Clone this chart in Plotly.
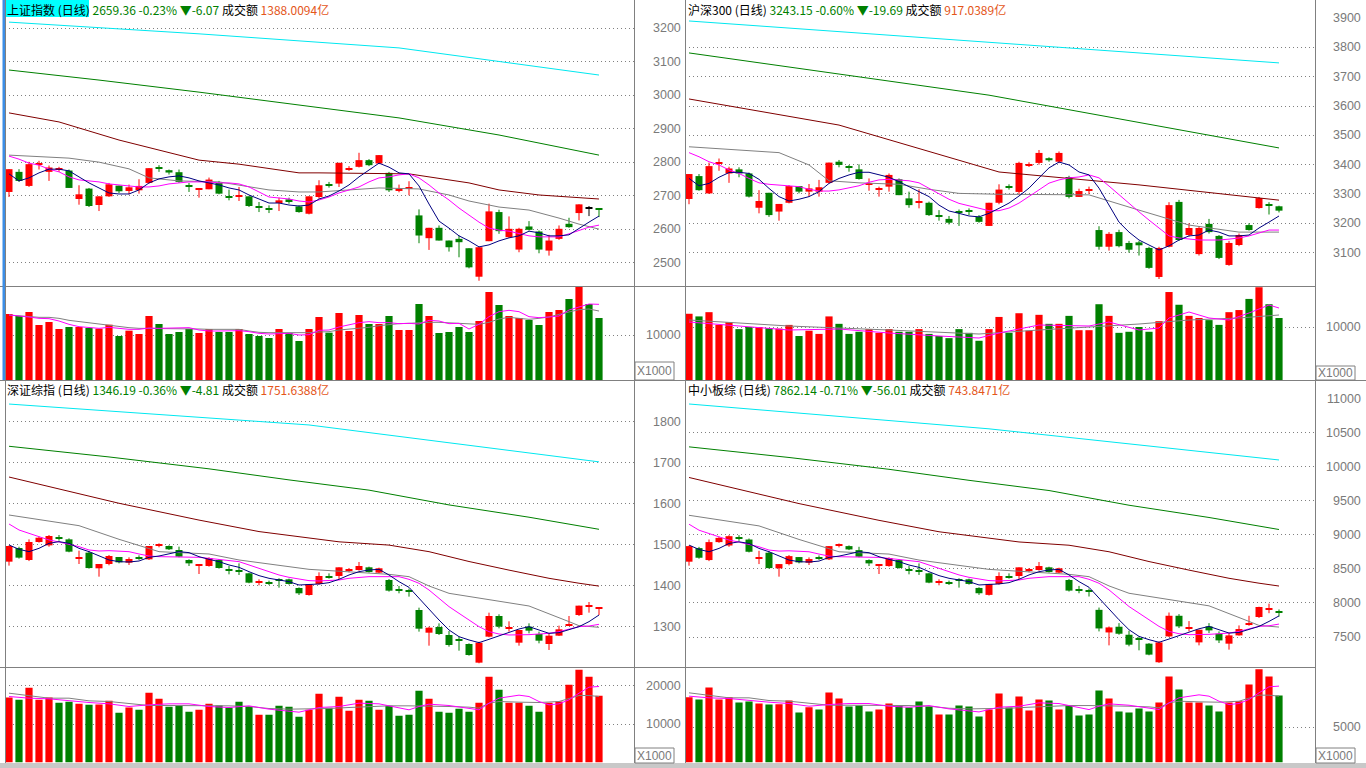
import plotly.graph_objects as go

W, H = 1366, 768

# ================= 上证指数 (top-left) =================
SH_OPEN = [2712, 2772, 2730, 2793, 2772, 2779, 2776, 2691, 2722, 2673,
           2699, 2731, 2715, 2717, 2739, 2785, 2777, 2771, 2731, 2719,
           2720, 2739, 2698, 2699, 2699, 2668, 2661, 2679, 2690, 2669,
           2647, 2697, 2735, 2737, 2779, 2787, 2807, 2797, 2769, 2715,
           2723, 2642, 2574, 2605, 2567, 2572, 2544, 2459, 2565, 2652,
           2577, 2540, 2609, 2594, 2537, 2572, 2617, 2649, 2665.43, 2662]
SH_CLOSE = [2780, 2745, 2795, 2795, 2785, 2781, 2724, 2705, 2670, 2699,
            2735, 2714, 2726, 2730, 2783, 2784, 2770, 2742, 2730, 2720,
            2749, 2707, 2697, 2700, 2670, 2667, 2660, 2687, 2682, 2652,
            2699, 2732, 2733, 2799, 2781, 2807, 2792, 2822, 2717, 2721,
            2724, 2582, 2605, 2567, 2547, 2562, 2487, 2547, 2654, 2595,
            2602, 2602, 2599, 2540, 2567, 2602, 2607, 2675, 2665.43, 2659.36]
SH_HIGH = [2780, 2780, 2802, 2805, 2791, 2787, 2779, 2732, 2724, 2699,
           2739, 2731, 2734, 2750, 2783, 2792, 2779, 2779, 2739, 2722,
           2755, 2745, 2719, 2727, 2699, 2682, 2672, 2695, 2695, 2672,
           2699, 2747, 2742, 2799, 2789, 2829, 2810, 2822, 2772, 2734,
           2744, 2660, 2605, 2612, 2567, 2582, 2544, 2549, 2677, 2659,
           2639, 2605, 2625, 2597, 2584, 2612, 2635, 2675, 2670, 2662]
SH_LOW = [2697, 2742, 2727, 2779, 2745, 2772, 2724, 2674, 2667, 2655,
          2697, 2709, 2705, 2707, 2737, 2772, 2764, 2739, 2712, 2695,
          2720, 2705, 2687, 2685, 2667, 2652, 2649, 2655, 2677, 2650,
          2645, 2692, 2725, 2727, 2775, 2785, 2789, 2795, 2712, 2711,
          2702, 2559, 2539, 2567, 2534, 2517, 2484, 2447, 2565, 2587,
          2575, 2532, 2597, 2529, 2522, 2569, 2605, 2627, 2640, 2637]
SH_VOL = [14667, 14222, 15111, 12222, 12889, 11333, 11778, 11778, 11556, 11407,
          12296, 9778, 10963, 10222, 14222, 12444, 10222, 10667, 11333, 10444,
          11333, 10667, 10667, 11333, 10222, 9778, 9333, 11333, 10444, 8667,
          11333, 14000, 10519, 14889, 10889, 14444, 12444, 12444, 14222, 11111,
          11111, 16889, 14222, 10444, 10667, 11778, 10667, 13111, 19556, 16667,
          14222, 13778, 13333, 12222, 15111, 15556, 18000, 20667, 16889, 13778]
SH_MA5 = [2766, 2745, 2754, 2769, 2780, 2780, 2775, 2757, 2739, 2724,
          2709, 2706, 2706, 2718, 2739, 2751, 2757, 2760, 2754, 2745,
          2739, 2733, 2724, 2718, 2703, 2691, 2679, 2679, 2673, 2670,
          2673, 2691, 2700, 2715, 2733, 2757, 2778, 2798, 2786, 2769,
          2766, 2730, 2676, 2625, 2604, 2581, 2566, 2548, 2554, 2566,
          2575, 2581, 2595, 2590, 2581, 2581, 2584, 2604, 2622, 2640]
SH_MA10 = [2819, 2810, 2798, 2792, 2780, 2772, 2757, 2748, 2745, 2742,
           2736, 2733, 2730, 2727, 2727, 2730, 2736, 2739, 2742, 2742,
           2742, 2739, 2739, 2736, 2727, 2712, 2697, 2694, 2691, 2685,
           2682, 2688, 2697, 2709, 2718, 2727, 2742, 2754, 2757, 2763,
           2766, 2754, 2733, 2709, 2688, 2664, 2643, 2622, 2604, 2598,
           2595, 2587, 2581, 2578, 2578, 2578, 2587, 2598, 2607, 2613]
SH_MA20_X = [0, 4, 6, 9, 12, 14, 17, 21, 24, 26, 29, 31, 37, 41, 44, 46, 49, 52, 55, 57, 59]
SH_MA20 = [2822, 2816, 2813, 2801, 2781, 2754, 2745, 2742, 2727, 2718, 2712,
           2712, 2724, 2721, 2703, 2685, 2667, 2658, 2634, 2616, 2601]
SH_MA60_X = [0, 5, 11, 19, 23, 29, 31, 40, 46, 49, 53, 59]
SH_MA60 = [2948, 2921, 2867, 2807, 2795, 2769, 2769, 2766, 2739, 2718, 2703, 2691]
SH_MA120_X = [0, 9, 19, 29, 39, 49, 59]
SH_MA120 = [3076, 3046, 3010, 2972, 2933, 2882, 2822]
SH_MA250_X = [0, 19, 39, 59]
SH_MA250 = [3219, 3184, 3142, 3061]
SH_VMA5_X = list(range(60))
SH_VMA5 = [14444, 14296, 13999, 13703, 13629, 13110, 12370, 11851, 11629, 11481,
           11703, 11481, 11259, 11259, 11555, 11481, 11481, 11481, 11629, 11111,
           10888, 10888, 10888, 10962, 10740, 10370, 10222, 10296, 10370, 10000,
           10074, 11036, 11111, 11777, 12222, 12740, 12962, 12740, 12740, 12518,
           12592, 12444, 13259, 13110, 12518, 12592, 11333, 12370, 14073, 15184,
           15481, 15184, 14073, 13851, 13999, 14222, 15555, 16295, 16888, 16814]
SH_VMA10_X = list(range(60))
SH_VMA10 = [14444, 14222, 13999, 13925, 13925, 13703, 13259, 12962, 12740, 12444,
            12222, 11851, 11629, 11481, 11481, 11481, 11407, 11333, 11333, 11333,
            11259, 11259, 11259, 11259, 10888, 10592, 10518, 10518, 10444, 10370,
            10518, 10666, 10740, 11111, 11259, 11481, 11703, 12073, 12370, 12518,
            12592, 12740, 12814, 12814, 12740, 12518, 12444, 12370, 12814, 13555,
            13925, 13703, 13481, 13703, 13999, 14592, 15036, 15629, 15777, 15333]

# ================= 沪深300 (top-right) =================
HS_OPEN = [3283, 3361, 3302, 3403, 3370, 3384, 3370, 3253, 3304, 3240,
           3270, 3327, 3308, 3308, 3338, 3410, 3392, 3384, 3335, 3318,
           3325, 3350, 3285, 3273, 3270, 3226, 3215, 3238, 3242, 3222,
           3191, 3270, 3325, 3307, 3398, 3406, 3422, 3410, 3358, 3290,
           3313, 3177, 3120, 3170, 3133, 3135, 3116, 3017, 3120, 3273,
           3160, 3095, 3198, 3157, 3058, 3126, 3194, 3252, 3265, 3258]
HS_CLOSE = [3368, 3313, 3395, 3405, 3387, 3370, 3291, 3276, 3228, 3266,
            3327, 3308, 3319, 3323, 3407, 3399, 3391, 3351, 3336, 3319,
            3365, 3296, 3262, 3274, 3228, 3225, 3202, 3237, 3241, 3205,
            3270, 3315, 3323, 3406, 3400, 3440, 3415, 3440, 3290, 3310,
            3314, 3120, 3164, 3122, 3110, 3125, 3048, 3116, 3262, 3143,
            3184, 3184, 3170, 3082, 3133, 3160, 3177, 3286, 3262.84, 3243.15]
HS_HIGH = [3368, 3368, 3407, 3421, 3393, 3391, 3373, 3313, 3304, 3266,
           3330, 3327, 3334, 3348, 3407, 3416, 3399, 3401, 3353, 3325,
           3370, 3353, 3308, 3316, 3274, 3245, 3225, 3247, 3251, 3228,
           3270, 3333, 3333, 3410, 3408, 3450, 3425, 3445, 3362, 3318,
           3325, 3190, 3170, 3178, 3140, 3140, 3120, 3120, 3272, 3280,
           3200, 3190, 3215, 3160, 3140, 3165, 3200, 3290, 3272, 3260]
HS_LOW = [3265, 3311, 3300, 3379, 3338, 3357, 3288, 3234, 3222, 3209,
          3268, 3302, 3291, 3291, 3336, 3391, 3376, 3349, 3311, 3291,
          3308, 3296, 3253, 3251, 3225, 3209, 3196, 3191, 3228, 3202,
          3191, 3265, 3315, 3300, 3392, 3400, 3410, 3405, 3285, 3290,
          3300, 3110, 3107, 3118, 3100, 3090, 3045, 3010, 3118, 3140,
          3155, 3090, 3165, 3078, 3055, 3122, 3175, 3250, 3230, 3237]
HS_VOL = [12500, 12000, 12800, 10400, 10900, 9600, 10000, 10000, 9800, 9700,
          10400, 8300, 9300, 8700, 12000, 10600, 8700, 9100, 9600, 8900,
          9600, 9100, 9100, 9600, 8700, 8300, 7900, 9600, 8900, 7400,
          9600, 11900, 8900, 12600, 9300, 12300, 10600, 10600, 12100, 9400,
          9400, 14300, 12100, 8900, 9100, 10000, 9100, 11100, 16600, 14200,
          12100, 11700, 11300, 10400, 12800, 13200, 15300, 17500, 14300, 11700]
HS_MA5 = [3353, 3328, 3336, 3357, 3373, 3374, 3370, 3350, 3319, 3291,
          3276, 3282, 3291, 3308, 3336, 3353, 3365, 3374, 3374, 3365,
          3357, 3342, 3325, 3308, 3291, 3262, 3242, 3234, 3225, 3222,
          3234, 3251, 3269, 3293, 3320, 3355, 3389, 3409, 3399, 3375,
          3365, 3320, 3262, 3204, 3170, 3143, 3126, 3109, 3123, 3143,
          3157, 3160, 3177, 3170, 3157, 3157, 3160, 3184, 3204, 3225]
HS_MA10 = [3441, 3427, 3410, 3399, 3382, 3370, 3353, 3338, 3333, 3331,
           3328, 3325, 3316, 3310, 3310, 3314, 3321, 3328, 3340, 3348,
           3350, 3348, 3345, 3338, 3319, 3302, 3282, 3268, 3260, 3251,
           3243, 3243, 3252, 3269, 3293, 3314, 3337, 3348, 3355, 3358,
           3365, 3355, 3327, 3297, 3269, 3239, 3211, 3184, 3157, 3150,
           3146, 3143, 3143, 3143, 3146, 3150, 3157, 3167, 3177, 3177]
HS_MA20_X = [0, 4, 9, 12, 14, 17, 21, 24, 27, 31, 40, 45, 50, 55, 59]
HS_MA20 = [3461, 3453, 3441, 3399, 3345, 3338, 3333, 3316, 3302, 3299,
           3297, 3245, 3194, 3170, 3170]
HS_MA60_X = [0, 15, 31, 45, 59]
HS_MA60 = [3624, 3535, 3375, 3331, 3279]
HS_MA120_X = [0, 30, 59]
HS_MA120 = [3781, 3637, 3457]
HS_MA250_X = [0, 30, 59]
HS_MA250 = [3890, 3818, 3747]
HS_VMA5_X = [0, 5, 10, 15, 20, 25, 29, 31, 35, 40, 42, 45, 47, 48, 50, 52, 54, 56, 58, 59]
HS_VMA5 = [10945, 10190, 9435, 9624, 8869, 8303, 7925, 8869, 10379, 10190,
           10945, 9435, 9812, 11699, 12832, 11699, 11322, 12643, 14153, 13586]
HS_VMA10_X = [0, 10, 20, 29, 35, 40, 45, 50, 55, 59]
HS_VMA10 = [11322, 10190, 9435, 8680, 9435, 10001, 10567, 11322, 11699, 12266]

# ================= 深证综指 (bottom-left) =================
SZ_OPEN = [1458.6, 1492, 1462.7, 1506.6, 1498.4, 1517.5, 1513, 1466, 1480.6, 1442.4,
           1452.9, 1470, 1456.2, 1469, 1464.3, 1498, 1496.8, 1487, 1462.7, 1449,
           1448, 1462.7, 1438.3, 1437, 1430.2, 1409.4, 1407.8, 1414, 1415.5, 1394.4,
           1377.3, 1404.2, 1420.5, 1423.7, 1438.3, 1438.3, 1444.8, 1431.8, 1413.9, 1389,
           1387.7, 1340.7, 1285.4, 1299.3, 1279.7, 1269, 1257.8, 1212.3, 1275.7, 1326.1,
           1295.2, 1261, 1300.1, 1282.2, 1257.8, 1278.1, 1304.1, 1328.5, 1350.5, 1345.9]
SZ_CLOSE = [1496.8, 1468.4, 1506.6, 1517, 1521.2, 1516.5, 1483, 1467, 1443, 1452.9,
            1472.4, 1457, 1465.1, 1468, 1496.8, 1499, 1488.7, 1470.8, 1454.5, 1450,
            1467.6, 1443.2, 1437.3, 1436, 1407.4, 1410, 1407, 1413.5, 1404.2, 1381.4,
            1404.2, 1423.7, 1420, 1444.8, 1438.8, 1448, 1433.4, 1442.4, 1387.9, 1388.7,
            1387, 1295.2, 1297.6, 1282.2, 1255.4, 1268, 1231, 1261, 1326.1, 1300.1,
            1296.2, 1292, 1290.3, 1265.9, 1278.1, 1293.6, 1306.6, 1351.3, 1351.0, 1346.19]
SZ_HIGH = [1498, 1495, 1513, 1519.6, 1523.6, 1523.6, 1515.5, 1485.4, 1484.6, 1452.9,
           1474.9, 1470, 1469.2, 1474, 1496.8, 1503.3, 1498.5, 1495.2, 1464.3, 1450,
           1469.2, 1465.1, 1448, 1454.5, 1431.8, 1415.5, 1412.3, 1418, 1417.2, 1396,
           1404.2, 1432.6, 1430, 1444.8, 1443.2, 1457.8, 1446.4, 1444, 1416.3, 1399.3,
           1392.8, 1346.4, 1300, 1308.2, 1289.5, 1275.7, 1259.4, 1263.5, 1334.2, 1330.2,
           1313.1, 1292, 1308.2, 1287.9, 1283.8, 1302.5, 1326.1, 1351.3, 1360.2, 1346.5]
SZ_LOW = [1448.9, 1466, 1460, 1505, 1495, 1509.8, 1481.4, 1452.9, 1441.6, 1422,
          1449.7, 1454.5, 1450.5, 1463, 1462.7, 1493.6, 1487, 1469.2, 1448, 1428.5,
          1446.4, 1441.5, 1427.7, 1426.1, 1405.8, 1400.9, 1401.7, 1395.2, 1402.5, 1377.3,
          1375.7, 1402.5, 1417.2, 1415.5, 1432.6, 1436.7, 1431.8, 1430.2, 1385.5, 1381.4,
          1373.3, 1287.9, 1253.7, 1279.7, 1251.3, 1241.5, 1229.3, 1210.7, 1274.1, 1296,
          1287.9, 1253.7, 1283.8, 1259.4, 1243.2, 1277.3, 1301.7, 1326.1, 1334.2, 1328.5]
SZ_VOL = [16971, 16362, 19495, 16362, 16971, 15578, 15839, 15317, 15056, 15143,
          16101, 12967, 14360, 13751, 18189, 16623, 14534, 14795, 13229, 13751,
          15317, 14882, 14273, 15839, 14534, 12445, 12445, 14795, 14534, 11923,
          13751, 17928, 14273, 17145, 13490, 16362, 16101, 13751, 14795, 12184,
          12445, 18711, 16623, 13229, 12967, 14012, 13229, 15578, 22367, 18973,
          15578, 15578, 14795, 13229, 15578, 15926, 20278, 24194, 22367, 17406]
SZ_MA5 = [1499.3, 1488.7, 1483.0, 1491.1, 1503.3, 1507.4, 1503.3, 1491.1, 1483.0, 1472.4,
          1462.7, 1458.6, 1457.8, 1460.2, 1469.2, 1472.4, 1477.3, 1483.0, 1480.6, 1470.8,
          1464.3, 1458.6, 1450.5, 1444.8, 1434.2, 1424.5, 1418.0, 1413.9, 1409.8, 1401.7,
          1402.5, 1404.1, 1407.4, 1415.5, 1426.1, 1434.2, 1438.3, 1439.9, 1426.1, 1409.8,
          1396.0, 1369.2, 1340.7, 1316.3, 1292.0, 1275.7, 1267.6, 1261.1, 1269.2, 1277.3,
          1285.4, 1294.4, 1300.1, 1292.0, 1283.8, 1285.4, 1292.0, 1300.1, 1312.3, 1328.5]
SZ_MA10 = [1550.5, 1535.9, 1527.7, 1519.6, 1511.5, 1506.6, 1501.7, 1495.2, 1487.1, 1484.6,
           1485.4, 1484.6, 1483.0, 1477.3, 1472.4, 1470.8, 1470.8, 1470.8, 1469.2, 1469.2,
           1466.7, 1464.3, 1462.7, 1458.6, 1450.5, 1442.4, 1434.2, 1426.1, 1420.4, 1415.5,
           1412.3, 1411.5, 1412.3, 1413.9, 1418.0, 1420.4, 1422.0, 1422.0, 1422.0, 1422.0,
           1415.5, 1405.8, 1389.5, 1369.2, 1348.9, 1332.6, 1316.3, 1300.1, 1287.9, 1282.2,
           1279.8, 1279.8, 1280.6, 1282.2, 1283.8, 1287.9, 1293.6, 1300.1, 1301.7, 1305.8]
SZ_MA20_X = [0, 7, 11, 15, 20, 23, 30, 32, 38, 40, 42, 44, 48, 52, 56, 57, 59]
SZ_MA20 = [1572.4, 1546.4, 1513.1, 1483.0, 1477.3, 1462.7, 1439.9, 1436.7, 1427.7,
           1422.0, 1399.3, 1381.4, 1365.1, 1350.5, 1312.3, 1302.5, 1298.5]
SZ_MA60_X = [0, 11, 19, 25, 33, 38, 42, 46, 50, 54, 57, 59]
SZ_MA60 = [1665, 1601, 1560, 1532, 1507, 1499, 1483, 1459, 1438, 1418, 1406, 1399]
SZ_MA120_X = [0, 10, 20, 28, 36, 44, 52, 59]
SZ_MA120 = [1740, 1714, 1685, 1658, 1633, 1597, 1567, 1537.5]
SZ_MA250_X = [0, 30, 59]
SZ_MA250 = [1843, 1792, 1702]
SZ_VMA5_X = [0, 2, 4, 6, 8, 10, 12, 14, 16, 18, 20, 22, 24, 26, 28, 29, 30, 31, 33, 35,
             37, 39, 40, 41, 42, 44, 46, 47, 48, 49, 51, 52, 53, 54, 55, 56, 57, 58, 59]
SZ_VMA5 = [17232, 16797, 16623, 16101, 15665, 15317, 14621, 15056, 15317, 15317,
           14621, 14360, 14795, 13925, 13490, 13142, 13751, 14360, 14621, 15491,
           15317, 14360, 13751, 14621, 15230, 14882, 14186, 13751, 15491, 16797,
           17580, 17232, 15926, 15056, 15317, 16362, 18102, 19669, 19843]
SZ_VMA10_X = [0, 2, 4, 6, 8, 10, 12, 14, 16, 18, 20, 22, 24, 26, 28, 30, 32, 34, 36, 38,
              40, 42, 44, 46, 47, 48, 49, 51, 53, 55, 56, 57, 58, 59]
SZ_VMA10 = [18102, 17406, 16797, 16797, 16101, 15926, 15317, 14882, 14882, 14882,
            14795, 14795, 14621, 14099, 13925, 13925, 14099, 14360, 14621, 14795,
            14795, 14795, 14621, 14447, 14186, 15491, 15926, 15752, 15665, 15926,
            16797, 17493, 17493, 17232]

# ================= 中小板综 (bottom-right) =================
ZX_OPEN = [8607, 8807, 8631, 8895, 8845, 8960, 8933, 8651, 8739, 8509,
           8572, 8675, 8592, 8669, 8641, 8843, 8836, 8777, 8631, 8549,
           8543, 8631, 8485, 8477, 8436, 8311, 8302, 8339, 8348, 8221,
           8119, 8280, 8378, 8397, 8485, 8485, 8524, 8446, 8338, 8189,
           8181, 7899, 7567, 7651, 7533, 7469, 7402, 7129, 7509, 7812,
           7626, 7421, 7656, 7548, 7402, 7524, 7680, 7794, 7910, 7880]
ZX_CLOSE = [8836, 8665, 8895, 8957, 8982, 8954, 8753, 8657, 8513, 8572,
            8689, 8597, 8646, 8663, 8836, 8849, 8787, 8680, 8582, 8555,
            8661, 8514, 8479, 8471, 8299, 8315, 8297, 8336, 8280, 8143,
            8280, 8397, 8375, 8524, 8488, 8543, 8455, 8509, 8182, 8187,
            8177, 7626, 7641, 7548, 7387, 7463, 7241, 7421, 7812, 7656,
            7632, 7607, 7597, 7450, 7524, 7617, 7695, 7941, 7918.15, 7862.14]
ZX_HIGH = [8843, 8825, 8933, 8973, 8997, 8997, 8948, 8767, 8763, 8572,
           8704, 8675, 8670, 8699, 8836, 8875, 8846, 8826, 8641, 8555,
           8670, 8646, 8543, 8582, 8446, 8348, 8329, 8363, 8358, 8231,
           8280, 8451, 8435, 8524, 8514, 8602, 8533, 8519, 8353, 8251,
           8212, 7933, 7655, 7704, 7592, 7509, 7411, 7436, 7860, 7836,
           7734, 7607, 7704, 7582, 7558, 7670, 7812, 7945, 7990, 7905]
ZX_LOW = [8548, 8651, 8615, 8885, 8825, 8914, 8743, 8572, 8505, 8387,
          8553, 8582, 8558, 8633, 8631, 8817, 8777, 8670, 8543, 8426,
          8533, 8504, 8421, 8412, 8290, 8260, 8265, 8226, 8270, 8119,
          8109, 8270, 8358, 8348, 8451, 8475, 8446, 8436, 8168, 8143,
          8095, 7582, 7377, 7533, 7363, 7304, 7231, 7119, 7500, 7631,
          7582, 7377, 7558, 7411, 7314, 7519, 7665, 7780, 7850, 7800]
ZX_VOL = [9283, 8950, 10664, 8950, 9283, 8521, 8664, 8378, 8236, 8283,
          8807, 7093, 7855, 7522, 9949, 9093, 7950, 8093, 7236, 7522,
          8378, 8140, 7807, 8664, 7950, 6807, 6807, 8093, 7950, 6522,
          7522, 9807, 7807, 9378, 7379, 8950, 8807, 7522, 8093, 6665,
          6807, 10235, 9093, 7236, 7093, 7665, 7236, 8521, 12235, 10378,
          8521, 8521, 8093, 7236, 8521, 8712, 11092, 13234, 12235, 9521]
ZX_MA5 = [8851, 8787, 8753, 8802, 8875, 8899, 8875, 8802, 8753, 8689,
          8631, 8607, 8602, 8616, 8670, 8689, 8719, 8753, 8739, 8680,
          8641, 8607, 8558, 8524, 8460, 8402, 8363, 8338, 8314, 8265,
          8270, 8280, 8299, 8348, 8412, 8460, 8485, 8494, 8412, 8314,
          8231, 8070, 7899, 7753, 7607, 7509, 7461, 7422, 7470, 7519,
          7567, 7621, 7656, 7607, 7558, 7567, 7607, 7656, 7729, 7810]
ZX_MA10 = [9158, 9070, 9021, 8973, 8924, 8895, 8865, 8826, 8778, 8763,
           8767, 8763, 8753, 8719, 8689, 8680, 8680, 8680, 8670, 8670,
           8655, 8641, 8631, 8607, 8558, 8509, 8460, 8412, 8377, 8348,
           8329, 8324, 8329, 8338, 8363, 8377, 8387, 8387, 8387, 8387,
           8348, 8290, 8192, 8070, 7948, 7851, 7753, 7656, 7582, 7548,
           7534, 7534, 7539, 7548, 7558, 7582, 7617, 7656, 7665, 7690]
ZX_MA20_X = [0, 7, 11, 15, 20, 23, 30, 32, 38, 40, 42, 44, 48, 52, 56, 57, 59]
ZX_MA20 = [9289, 9133, 8934, 8753, 8719, 8631, 8494, 8475, 8421, 8387, 8251, 8143,
           8046, 7958, 7729, 7670, 7646]
ZX_MA60_X = [0, 11, 19, 25, 33, 38, 42, 46, 50, 54, 57, 59]
ZX_MA60 = [9845, 9461, 9215, 9047, 8897, 8849, 8753, 8609, 8483, 8363, 8291, 8249]
ZX_MA120_X = [0, 10, 20, 28, 36, 44, 52, 59]
ZX_MA120 = [10295, 10139, 9965, 9803, 9653, 9437, 9257, 9080]
ZX_MA250_X = [0, 30, 59]
ZX_MA250 = [10925, 10560, 10102]
ZX_VMA5_X = [0, 2, 4, 6, 8, 10, 12, 14, 16, 18, 20, 22, 24, 26, 28, 29, 30, 31, 33, 35,
             37, 39, 40, 41, 42, 44, 46, 47, 48, 49, 51, 52, 53, 54, 55, 56, 57, 58, 59]
ZX_VMA5 = [9426, 9188, 9093, 8807, 8569, 8378, 7998, 8236, 8378, 8378,
           7998, 7855, 8093, 7617, 7379, 7189, 7522, 7855, 7998, 8474,
           8378, 7855, 7522, 7998, 8331, 8140, 7760, 7522, 8474, 9188,
           9616, 9426, 8712, 8236, 8378, 8950, 9902, 10759, 10854]
ZX_VMA10_X = [0, 2, 4, 6, 8, 10, 12, 14, 16, 18, 20, 22, 24, 26, 28, 30, 32, 34, 36, 38,
              40, 42, 44, 46, 47, 48, 49, 51, 53, 55, 56, 57, 58, 59]
ZX_VMA10 = [9902, 9521, 9188, 9188, 8807, 8712, 8378, 8140, 8140, 8140,
            8093, 8093, 7998, 7712, 7617, 7617, 7712, 7855, 7998, 8093,
            8093, 8093, 7998, 7903, 7760, 8474, 8712, 8616, 8569, 8712,
            9188, 9569, 9569, 9426]

# axis labels
SH_TICKS = [3200, 3100, 3000, 2900, 2800, 2700, 2600, 2500]
SH_VTICKS = [10000]
HS_TICKS = [3900, 3800, 3700, 3600, 3500, 3400, 3300, 3200, 3100]
HS_VTICKS = [10000]
SZ_TICKS = [1800, 1700, 1600, 1500, 1400, 1300]
SZ_VTICKS = [20000, 10000]
ZX_TICKS = [11000, 10500, 10000, 9500, 9000, 8500, 8000, 7500]
ZX_VTICKS = [5000]

HEADERS = [
    ("上证指数 (日线)", "2659.36 -0.23% ▼-6.07", "1388.0094亿"),
    ("沪深300 (日线)", "3243.15 -0.60% ▼-19.69", "917.0389亿"),
    ("深证综指 (日线)", "1346.19 -0.36% ▼-4.81", "1751.6388亿"),
    ("中小板综 (日线)", "7862.14 -0.71% ▼-56.01", "743.8471亿"),
]

RED, GREEN, BLACK = "#ff0000", "#008000", "#000000"
C_MA5, C_MA10, C_MA20, C_MA60, C_MA120, C_MA250 = "#000080", "#ff00ff", "#808080", "#800000", "#008000", "#00e8f0"
GRID = "#808080"
LABEL = "#7a7a7a"

fig = go.Figure()
annotations = []
shapes = []


def px(x):
    return x / W


def py(y):
    return 1 - y / H


def axn(n):
    return "" if n == 1 else str(n)


def add_panel(k, o, hi, lo, c, v, mas, vmas, prange, vrange, xdom, ydp, ydv,
              ticks, gticks, vticks, label_x):
    pa, va = 2 * k + 1, 2 * k + 2
    xa_p, ya_p = "x" + axn(pa), "y" + axn(pa)
    xa_v, ya_v = "x" + axn(va), "y" + axn(va)
    n = len(c)
    pp = (prange[1] - prange[0]) / ((ydp[1] - ydp[0]) * H)
    if n:
        cols, bases, heights, vcols = [], [], [], []
        wick = {RED: ([], []), GREEN: ([], []), BLACK: ([], [])}
        for i in range(n):
            if c[i] > o[i]:
                col = RED
            elif c[i] < o[i]:
                col = GREEN
            else:
                col = BLACK
            cols.append(col)
            if col == BLACK:
                vcols.append(RED if i > 0 and c[i] > c[i - 1] else GREEN)
            else:
                vcols.append(col)
            top, bot = max(o[i], c[i]), min(o[i], c[i])
            hgt = top - bot
            if hgt < pp:
                mid = (top + bot) / 2
                bot, hgt = mid - pp / 2, pp
            bases.append(bot)
            heights.append(hgt)
            wick[col][0].extend([i, i, None])
            wick[col][1].extend([lo[i], hi[i], None])
        for col, (wx, wy) in wick.items():
            if wx:
                fig.add_trace(go.Scatter(x=wx, y=wy, mode="lines", line=dict(color=col, width=1),
                                         xaxis=xa_p, yaxis=ya_p, hoverinfo="skip"))
        fig.add_trace(go.Bar(x=list(range(n)), y=heights, base=bases, width=0.7,
                             marker=dict(color=cols, line=dict(width=0)),
                             xaxis=xa_p, yaxis=ya_p, hoverinfo="skip"))
        fig.add_trace(go.Bar(x=list(range(n)), y=v, width=0.72,
                             marker=dict(color=vcols, line=dict(width=0)),
                             xaxis=xa_v, yaxis=ya_v, hoverinfo="skip"))
    for (mx, my), col in zip(mas, [C_MA250, C_MA120, C_MA60, C_MA20, C_MA10, C_MA5]):
        if my:
            fig.add_trace(go.Scatter(x=list(mx), y=my, mode="lines", line=dict(color=col, width=1),
                                     xaxis=xa_p, yaxis=ya_p, hoverinfo="skip"))
    for (mx, my), col in zip(vmas, [C_MA20, C_MA10]):
        if my:
            fig.add_trace(go.Scatter(x=list(mx), y=my, mode="lines", line=dict(color=col, width=1),
                                     xaxis=xa_v, yaxis=ya_v, hoverinfo="skip"))
    for a, ya, yd, rng, gv in [(pa, ya_p, ydp, prange, gticks), (va, ya_v, ydv, vrange, vticks)]:
        fig.layout["xaxis" + axn(a)] = dict(domain=xdom, range=[-0.4, 62.5], visible=False,
                                            anchor=ya, fixedrange=True)
        fig.layout["yaxis" + axn(a)] = dict(domain=yd, range=rng, showticklabels=False, ticks="",
                                            showline=False, zeroline=False, showgrid=True,
                                            tickvals=gv, gridcolor=GRID, griddash="1px,3px",
                                            gridwidth=1, anchor="x" + axn(a), fixedrange=True)
    for t in ticks:
        annotations.append(dict(x=px(label_x), xref="paper", y=t, yref=ya_p, text=str(t),
                                xanchor="right", yanchor="middle", showarrow=False,
                                font=dict(family="Liberation Sans, Arial", size=12.5, color=LABEL)))
    for t in vticks:
        annotations.append(dict(x=px(label_x), xref="paper", y=t, yref=ya_v, text=str(t),
                                xanchor="right", yanchor="middle", showarrow=False,
                                font=dict(family="Liberation Sans, Arial", size=12.5, color=LABEL)))


TOP_P, TOP_V = [py(286), py(0)], [py(380), py(286)]
BOT_P, BOT_V = [py(667), py(381)], [py(762.5), py(667)]
LEFT_X, RIGHT_X = [px(5), px(634)], [px(685), px(1314)]

add_panel(0, SH_OPEN, SH_HIGH, SH_LOW, SH_CLOSE, SH_VOL,
          [(SH_MA250_X, SH_MA250), (SH_MA120_X, SH_MA120), (SH_MA60_X, SH_MA60),
           (SH_MA20_X, SH_MA20), (range(len(SH_MA10)), SH_MA10), (range(len(SH_MA5)), SH_MA5)],
          [(SH_VMA10_X, SH_VMA10), (SH_VMA5_X, SH_VMA5)],
          [2431.3, 3285.0], [0, 20889], LEFT_X, TOP_P, TOP_V,
          SH_TICKS, SH_TICKS, SH_VTICKS, 683)
add_panel(1, HS_OPEN, HS_HIGH, HS_LOW, HS_CLOSE, HS_VOL,
          [(HS_MA250_X, HS_MA250), (HS_MA120_X, HS_MA120), (HS_MA60_X, HS_MA60),
           (HS_MA20_X, HS_MA20), (range(len(HS_MA10)), HS_MA10), (range(len(HS_MA5)), HS_MA5)],
          [(HS_VMA10_X, HS_VMA10), (HS_VMA5_X, HS_VMA5)],
          [2986.2, 3961.5], [0, 17738], RIGHT_X, TOP_P, TOP_V,
          HS_TICKS, HS_TICKS[1:], HS_VTICKS, 1363)
add_panel(2, SZ_OPEN, SZ_HIGH, SZ_LOW, SZ_CLOSE, SZ_VOL,
          [(SZ_MA250_X, SZ_MA250), (SZ_MA120_X, SZ_MA120), (SZ_MA60_X, SZ_MA60),
           (SZ_MA20_X, SZ_MA20), (range(len(SZ_MA10)), SZ_MA10), (range(len(SZ_MA5)), SZ_MA5)],
          [(SZ_VMA10_X, SZ_VMA10), (SZ_VMA5_X, SZ_VMA5)],
          [1201.7, 1899.2], [0, 24935], LEFT_X, BOT_P, BOT_V,
          SZ_TICKS, SZ_TICKS, SZ_VTICKS, 683)
add_panel(3, ZX_OPEN, ZX_HIGH, ZX_LOW, ZX_CLOSE, ZX_VOL,
          [(ZX_MA250_X, ZX_MA250), (ZX_MA120_X, ZX_MA120), (ZX_MA60_X, ZX_MA60),
           (ZX_MA20_X, ZX_MA20), (range(len(ZX_MA10)), ZX_MA10), (range(len(ZX_MA5)), ZX_MA5)],
          [(ZX_VMA10_X, ZX_VMA10), (ZX_VMA5_X, ZX_VMA5)],
          [7059, 11263], [0, 13571], RIGHT_X, BOT_P, BOT_V,
          ZX_TICKS, ZX_TICKS[1:], ZX_VTICKS, 1363)


def line(x0, y0, x1, y1, color="#808080", w=1):
    shapes.append(dict(type="line", xref="paper", yref="paper", x0=px(x0), y0=py(y0),
                       x1=px(x1), y1=py(y1), line=dict(color=color, width=w)))


def rect(x0, y0, x1, y1, fill=None, color=None, w=1, layer="above"):
    shapes.append(dict(type="rect", xref="paper", yref="paper", x0=px(x0), y0=py(y0),
                       x1=px(x1), y1=py(y1), fillcolor=fill or "rgba(0,0,0,0)",
                       line=dict(color=color or "rgba(0,0,0,0)", width=w if color else 0),
                       layer=layer))


# frame lines
line(5.5, 0, 5.5, 763)
line(634.5, 0, 634.5, 763)
line(685.5, 0, 685.5, 763)
line(1315.5, 0, 1315.5, 763)
line(0, 286.5, 1315.5, 286.5)
line(0, 380.5, W, 380.5)
line(0, 667.5, 1315.5, 667.5)
rect(0, 763, W, 768, fill="#c8c8c8")
rect(2.5, 0, 5, 380, fill="#3c8ee6")

# X1000 boxes
for (x0, y0, x1, y1) in [(635, 362, 674, 380), (1316, 366, 1355, 380),
                         (635, 748, 674, 763), (1316, 748, 1355, 763)]:
    rect(x0, y0, x1, y1, color="#808080")
    annotations.append(dict(x=px((x0 + x1) / 2), y=py((y0 + y1) / 2), xref="paper", yref="paper",
                            text="X1000", showarrow=False, xanchor="center", yanchor="middle",
                            font=dict(family="Liberation Sans, Arial", size=12, color=LABEL)))

# headers
rect(5, 0, 89, 17, fill="#00ffff", layer="below")
for (name, chg, amt), (hx, hy) in zip(HEADERS, [(5, 9), (686, 9), (5, 389.5), (686, 389.5)]):
    txt = (f"{name} <span style='color:#008000'>{chg}</span> 成交额 "
           f"<span style='color:#e4561a'>{amt}</span>")
    annotations.append(dict(x=px(hx), y=py(hy), xref="paper", yref="paper", text=txt,
                            showarrow=False, xanchor="left", yanchor="middle",
                            font=dict(family="Noto Sans CJK SC", size=12, color="#000000")))

fig.update_layout(width=W, height=H, margin=dict(l=0, r=0, t=0, b=0),
                  paper_bgcolor="#ffffff", plot_bgcolor="#ffffff", showlegend=False,
                  barmode="overlay", annotations=annotations, shapes=shapes,
                  hovermode=False)
fig.write_html("out.html")
